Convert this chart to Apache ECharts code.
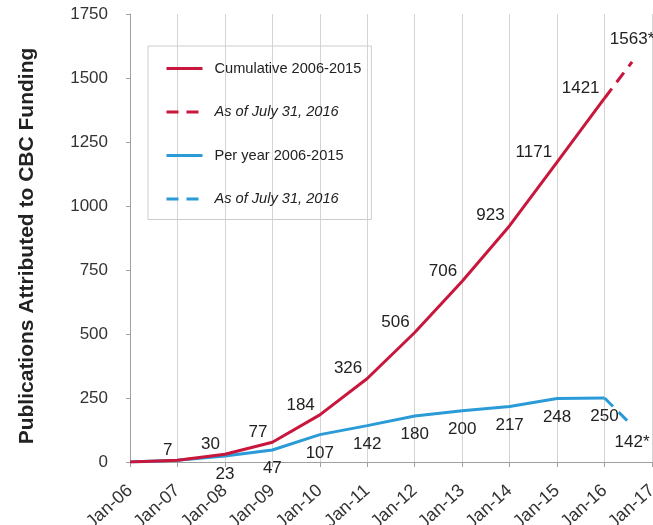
<!DOCTYPE html>
<html>
<head>
<meta charset="utf-8">
<script src="https://cdn.jsdelivr.net/npm/echarts@6/dist/echarts.min.js"></script>
<style>
  html, body { margin: 0; padding: 0; background: #fff; }
  #chart { width: 653px; height: 525px; }
</style>
</head>
<body>
<div id="chart"></div>
<script>
// tick labels along the bottom, one per January
const tickLabels = ['Jan-06', 'Jan-07', 'Jan-08', 'Jan-09', 'Jan-10', 'Jan-11',
    'Jan-12', 'Jan-13', 'Jan-14', 'Jan-15', 'Jan-16', 'Jan-17'];
// values at each January (index into tickLabels)
const cumulative = [0, 7, 30, 77, 184, 326, 506, 706, 923, 1171, 1421];
const perYear = [0, 7, 23, 47, 107, 142, 180, 200, 217, 248, 250];
// partial year, as of July 31 2016 (years after Jan-06)
const asOfX = 10.58;
const cumulativeAsOf = 1563;
const perYearAsOf = 142;

const RED = '#c8163c';
const BLUE = '#2b9bd8';
const FONT = '"Liberation Sans", Arial, sans-serif';

const toPairs = vals => vals.map((v, i) => [i, v]);
const last = arr => arr.length - 1;

const chart = echarts.init(document.getElementById('chart'));

const option = {
    animation: false,
    textStyle: { fontFamily: FONT },
    grid: { left: 130, right: 1, top: 14, bottom: 63, outerBoundsMode: 'none', containLabel: false },
    legend: {
        orient: 'vertical',
        left: 148,
        top: 46,
        padding: [15, 10, 13, 17],
        itemGap: 28.5,
        itemWidth: 36,
        itemHeight: 14,
        borderColor: '#cccccc',
        borderWidth: 1,
        itemStyle: { opacity: 0 },
        lineStyle: { width: 3 },
        textStyle: { fontSize: 14.6, color: '#222', fontFamily: FONT, padding: [0, 0, 0, 7] },
        data: [
            { name: 'Cumulative 2006-2015' },
            { name: 'As of July 31, 2016', textStyle: { fontStyle: 'italic' } },
            { name: 'Per year 2006-2015' },
            { name: 'As of July 31, 2016 ', textStyle: { fontStyle: 'italic' } }
        ]
    },
    xAxis: {
        type: 'value',
        min: 0,
        max: tickLabels.length - 1,
        interval: 1,
        axisLine: { show: true, lineStyle: { color: '#a0a0a0' } },
        axisTick: { show: true, length: 5, lineStyle: { color: '#a0a0a0' } },
        splitLine: { show: true, lineStyle: { color: '#d4d4d4' } },
        axisLabel: {
            rotate: 42,
            margin: 26,
            fontSize: 18,
            color: '#333',
            formatter: v => tickLabels[v] || ''
        }
    },
    yAxis: {
        type: 'value',
        min: 0,
        max: 1750,
        interval: 250,
        name: 'Publications Attributed to CBC Funding',
        nameLocation: 'middle',
        nameGap: 92,
        nameTextStyle: { fontSize: 21, fontWeight: 'bold', color: '#222', padding: [0, 16, 0, 0] },
        axisLine: { show: true, lineStyle: { color: '#a0a0a0' } },
        axisTick: { show: true, length: 4, lineStyle: { color: '#a0a0a0' } },
        splitLine: { show: false },
        axisLabel: { fontSize: 17, color: '#333', margin: 22, formatter: v => String(v) }
    },
    series: [
        {
            name: 'Cumulative 2006-2015',
            type: 'line',
            data: toPairs(cumulative),
            symbol: 'circle',
            symbolSize: 0,
            color: RED,
            lineStyle: { width: 3, color: RED },
            label: {
                show: true,
                position: 'left',
                distance: 5,
                offset: [0, -10],
                fontSize: 17,
                color: '#222',
                formatter: p => p.dataIndex === 0 ? '' : String(p.value[1])
            },
            z: 3
        },
        {
            name: 'As of July 31, 2016',
            type: 'line',
            data: [[last(cumulative), cumulative[last(cumulative)]], [asOfX, cumulativeAsOf]],
            symbol: 'circle',
            symbolSize: 0,
            color: RED,
            lineStyle: { width: 3, color: RED, type: [12, 8] },
            label: {
                show: true,
                position: 'top',
                distance: 14,
                fontSize: 17,
                color: '#222',
                formatter: p => p.dataIndex === 0 ? '' : p.value[1] + '*'
            },
            z: 3
        },
        {
            name: 'Per year 2006-2015',
            type: 'line',
            data: toPairs(perYear),
            symbol: 'circle',
            symbolSize: 0,
            color: BLUE,
            lineStyle: { width: 3, color: BLUE },
            label: {
                show: true,
                position: 'bottom',
                distance: 10,
                fontSize: 17,
                color: '#222',
                formatter: p => p.dataIndex < 2 ? '' : String(p.value[1])
            },
            z: 2
        },
        {
            name: 'As of July 31, 2016 ',
            type: 'line',
            data: [[last(perYear), perYear[last(perYear)]], [asOfX, perYearAsOf]],
            symbol: 'circle',
            symbolSize: 0,
            color: BLUE,
            lineStyle: { width: 3, color: BLUE, type: [12, 8] },
            label: {
                show: true,
                position: 'bottom',
                distance: 8,
                fontSize: 17,
                color: '#222',
                formatter: p => p.dataIndex === 0 ? '' : p.value[1] + '*'
            },
            z: 2
        }
    ]
};

chart.setOption(option);
</script>
</body>
</html>
